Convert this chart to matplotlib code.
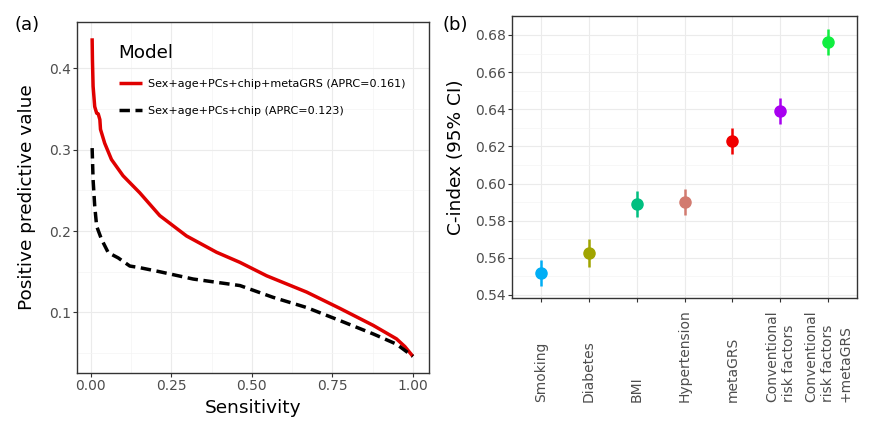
import matplotlib
matplotlib.use('Agg')
import matplotlib.pyplot as plt
import numpy as np

plt.rcParams['font.family'] = 'DejaVu Sans'

# (a) precision-recall curves
red_x = [0.004, 0.005, 0.007, 0.012, 0.018, 0.023, 0.028, 0.030, 0.043, 0.064, 0.10,
         0.152, 0.214, 0.297, 0.39, 0.463, 0.546, 0.67, 0.773, 0.877, 0.949, 0.975, 1.0]
red_y = [0.437, 0.41, 0.378, 0.353, 0.345, 0.344, 0.337, 0.325, 0.308, 0.288, 0.268,
         0.247, 0.219, 0.194, 0.174, 0.1615, 0.145, 0.125, 0.105, 0.084, 0.0675, 0.058, 0.046]
black_x = [0.004, 0.007, 0.012, 0.018, 0.033, 0.054, 0.085, 0.121, 0.152, 0.214, 0.318,
           0.463, 0.566, 0.67, 0.773, 0.877, 0.949, 1.0]
black_y = [0.302, 0.263, 0.231, 0.206, 0.19, 0.1735, 0.167, 0.157, 0.155, 0.15, 0.141,
           0.133, 0.1185, 0.106, 0.090, 0.0735, 0.061, 0.046]
red_label = 'Sex+age+PCs+chip+metaGRS (APRC=0.161)'
black_label = 'Sex+age+PCs+chip (APRC=0.123)'

# (b) C-index with 95% CI
models = ['Smoking', 'Diabetes', 'BMI', 'Hypertension', 'metaGRS',
          'Conventional\nrisk factors', 'Conventional\nrisk factors\n+metaGRS']
cindex = [0.552, 0.5625, 0.589, 0.590, 0.623, 0.639, 0.676]
ci_lo = [0.545, 0.555, 0.582, 0.583, 0.616, 0.632, 0.669]
ci_hi = [0.559, 0.570, 0.596, 0.597, 0.630, 0.646, 0.683]
colors = ['#00AEF5', '#A0A400', '#00BF80', '#D27B70', '#F00000', '#A800F0', '#10EE40']

grey30 = '#4D4D4D'
border = '#333333'

fig = plt.figure(figsize=(8.86, 4.42), dpi=100)

def style_axes(ax):
    for s in ax.spines.values():
        s.set_color(border)
        s.set_linewidth(1.0)
    ax.tick_params(which='major', length=3, width=0.8, color=border,
                   labelsize=10, labelcolor=grey30, pad=1.5)
    ax.tick_params(which='minor', length=0)
    ax.grid(which='major', color='#EBEBEB', linewidth=0.8)
    ax.grid(which='minor', color='#F4F4F4', linewidth=0.5)
    ax.set_axisbelow(True)

# Panel (a)
ax1 = fig.add_axes([0.0869, 0.1561, 0.3973, 0.7941])
ax1.plot(red_x, red_y, color='#E00000', linewidth=2.5, label=red_label,
         solid_capstyle='butt')
ax1.plot(black_x, black_y, color='black', linewidth=2.5, dashes=(3, 1.6),
         label=black_label)
ax1.set_xlim(-0.043, 1.05)
ax1.set_ylim(0.0255, 0.457)
ax1.set_xticks([0, 0.25, 0.5, 0.75, 1.0])
ax1.set_xticklabels(['0.00', '0.25', '0.50', '0.75', '1.00'])
ax1.set_yticks([0.1, 0.2, 0.3, 0.4])
ax1.set_xticks(np.arange(0.125, 1.0, 0.25), minor=True)
ax1.set_yticks([0.05, 0.15, 0.25, 0.35], minor=True)
style_axes(ax1)
ax1.set_xlabel('Sensitivity', fontsize=13.3, labelpad=4)
ax1.set_ylabel('Positive predictive value', fontsize=13.3, labelpad=9)
leg = ax1.legend(title='Model', loc='upper left', bbox_to_anchor=(0.09, 0.965),
                 frameon=False, fontsize=8, title_fontsize=13.2,
                 handlelength=2.1, handletextpad=0.5, labelspacing=1.5,
                 alignment='left')

# Panel (b)
ax2 = fig.add_axes([0.5779, 0.3265, 0.3894, 0.638])
xpos = np.arange(len(models))
for i in xpos:
    ax2.plot([xpos[i], xpos[i]], [ci_lo[i], ci_hi[i]], color=colors[i],
             linewidth=1.8, solid_capstyle='butt')
    ax2.plot(xpos[i], cindex[i], 'o', color=colors[i], markersize=8)
ax2.set_xlim(-0.6, len(models) - 0.4)
ax2.set_ylim(0.5385, 0.6904)
ax2.set_yticks(np.arange(0.54, 0.681, 0.02))
ax2.set_yticklabels(['%.2f' % v for v in np.arange(0.54, 0.681, 0.02)])
ax2.set_yticks(np.arange(0.55, 0.69, 0.02), minor=True)
ax2.set_xticks(xpos)
ax2.set_xticklabels([''] * len(models))
style_axes(ax2)
for i in xpos:
    ax2.text(xpos[i], -0.37, models[i], transform=ax2.get_xaxis_transform(),
             rotation=90, ha='center', va='bottom', multialignment='left',
             fontsize=10, color=grey30, linespacing=1.25)
ax2.set_ylabel('C-index (95% CI)', fontsize=13.3, labelpad=7)

fig.text(0.016, 0.943, '(a)', fontsize=13, va='center')
fig.text(0.500, 0.943, '(b)', fontsize=13, va='center')

fig.savefig('out.png', dpi=100)
